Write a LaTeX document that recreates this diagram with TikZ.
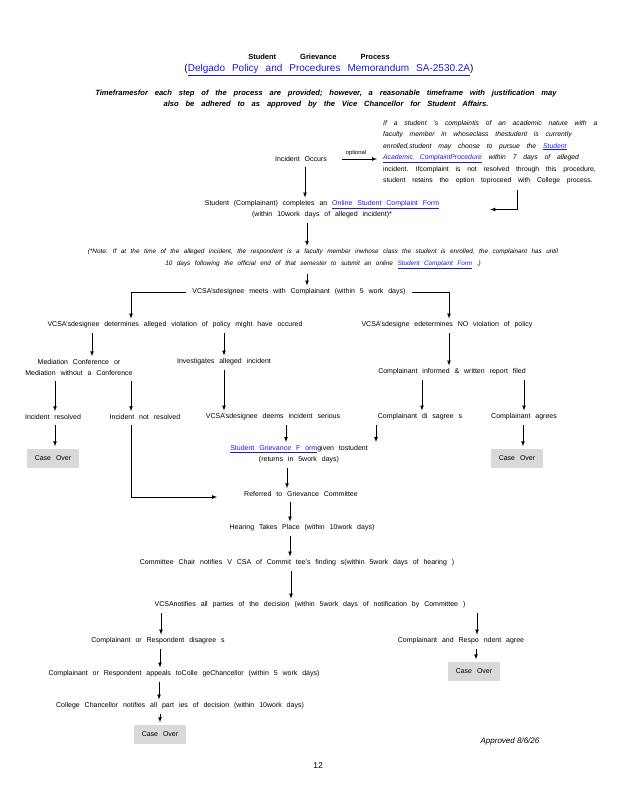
\documentclass[tikz,border=0pt]{standalone}
\usepackage{fontspec}
\setmainfont{Liberation Sans}
\usepackage{tikz}
\usetikzlibrary{arrows}
\definecolor{lnkblue}{RGB}{25,25,235}
\definecolor{boxgray}{RGB}{217,217,217}
\newcommand{\lnk}[1]{\textcolor{lnkblue}{\underline{#1}}}
\newcommand{\wsp}{\spaceskip=0.7em plus 0.1em\relax}
\newcommand{\wspw}{\spaceskip=0.9em plus 0.1em\relax}
\newcommand{\wspr}{\spaceskip=1em plus 0.1em\relax}
\tikzset{
  txt/.style={inner sep=1pt, align=center, font=\fontsize{7}{11}\selectfont\wsp},
  arr/.style={-latex, line width=0.7pt, shorten <=4pt, shorten >=2pt},
  caseover/.style={fill=boxgray, minimum width=52pt, minimum height=19pt, inner sep=0pt, font=\fontsize{7}{8}\selectfont\wsp}
}

\begin{document}
\begin{tikzpicture}[x=1pt,y=-1pt]
  \useasboundingbox (0,0) rectangle (618,800);
  \node[txt, font=\fontsize{7.5}{9}\selectfont\bfseries] (title) at (319, 57)
       {Student\hspace{24pt}Grievance\hspace{24pt}Process};
  \node[txt, font=\fontsize{10}{11}\selectfont\wsp] (memo) at (329, 70)
       {(\lnk{Delgado Policy and Procedures Memorandum SA-2530.2A})};
  \node[txt, font=\fontsize{7.6}{11}\selectfont\bfseries\itshape\wspw] (tframe) at (326,99.5)
       {Timeframesfor each step of the process are provided; however, a reasonable timeframe with justification may\\
        also be adhered to as approved by the Vice Chancellor for Student Affairs.};
  \node[txt, align=left, anchor=north west, font=\fontsize{6.8}{11.5}\selectfont\wspr] (rblock) at (382,119)
       {\textit{If a student 's complaintis of an academic nature with a}\\
        \textit{faculty member in whoseclass thestudent is currently}\\
        \textit{enrolled,student may choose to pursue the \lnk{Student}}\\
        \textit{\lnk{Academic ComplaintProcedure} within 7 days of alleged}\\
        incident. Ifcomplaint is not resolved through this procedure,\\
        student retains the option toproceed with College process.};
  \node[txt] (occurs) at (301,159) {Incident Occurs};
  \node[txt, font=\fontsize{5.8}{7}\selectfont] (opt) at (356,153) {optional};
  \node[txt] (completes) at (322,209.5)
       {Student (Complainant) completes an \lnk{Online Student Complaint Form}\\
        (within 10work days of alleged incident)*};
  \node[txt, font=\fontsize{6.4}{12}\selectfont\itshape\wsp] (note) at (323,259)
       {(*Note: If at the time of the alleged incident, the respondent is a faculty member inwhose class the student is enrolled, the complainant has until\\
        10 days following the official end of that semester to submit an online \lnk{Student Complaint Form} .)};
  \node[txt] (meets)     at (299,292) {VCSA'sdesignee meets with Complainant (within 5 work days)};
  \node[txt] (determ)    at (175,325) {VCSA'sdesignee determines alleged violation of policy might have occured};
  \node[txt] (nodet)     at (447,325) {VCSA'sdesigne edetermines NO violation of policy};
  \node[txt] (mediation) at ( 79,367.5) {Mediation Conference or\\Mediation without a Conference};
  \node[txt] (invest)    at (224,362) {Investigates alleged incident};
  \node[txt] (informed)  at (452,372) {Complainant informed \& written report filed};
  \node[txt] (resolved)  at ( 53,417) {Incident resolved};
  \node[txt] (notres)    at (145,417) {Incident not resolved};
  \node[txt] (serious)   at (273,417) {VCSA'sdesignee deems incident serious};
  \node[txt] (cdis)      at (420,417) {Complainant di sagree s};
  \node[txt] (cagr)      at (524,417) {Complainant agrees};
  \node[caseover] (case1) at ( 53,458) {Case Over};
  \node[caseover] (case2) at (517,458) {Case Over};
  \node[txt] (sgf)       at (299,454) {\lnk{Student Grievance F orm}given tostudent\\(returns in 5work days)};
  \node[txt] (referred)  at (301,494) {Referred to Grievance Committee};
  \node[txt] (hearing)   at (302,528) {Hearing Takes Place (within 10work days)};
  \node[txt] (chair)     at (297,563) {Committee Chair notifies V CSA of Commit tee's finding s(within 5work days of hearing )};
  \node[txt] (vnotify)   at (310,605) {VCSAnotifies all parties of the decision (within 5work days of notification by Committee )};
  \node[txt] (cords)     at (158,641) {Complainant or Respondent disagree s};
  \node[txt] (cands)     at (461,641) {Complainant and Respo ndent agree};
  \node[caseover] (case3) at (474,671) {Case Over};
  \node[txt] (appeals)   at (184,674) {Complainant or Respondent appeals toColle geChancellor (within 5 work days)};
  \node[txt] (chanc)     at (180,706) {College Chancellor notifies all part ies of decision (within 10work days)};
  \node[caseover] (case4) at (160,734) {Case Over};
  \node[txt, font=\fontsize{8}{10}\selectfont\itshape] (approved) at (510,741) {Approved 8/6/26};
  \node[txt, font=\fontsize{8.5}{10}\selectfont] (pagenum) at (318,766) {12};
  \draw[arr, shorten <=14pt, shorten >=5pt] (occurs.east) -- (occurs.east -| rblock.west);
  \draw[arr] ([xshift=4pt]occurs.south) -- ([xshift=-17pt]completes.north);
  \draw[arr, shorten <=0pt] ([xshift=135pt,yshift=-5pt]rblock.south west) |- ([xshift=48pt]completes.east);
  \draw[arr] ([xshift=-15pt]completes.south) -- ([xshift=-16pt]note.north);
  \draw[arr] ([xshift=-16pt]note.south) -- ([xshift=8pt]meets.north);
  \draw[arr, shorten <=5pt] (meets.west) -| ([xshift=-44pt]determ.north);
  \draw[arr, shorten <=5pt] (meets.east) -| ([xshift=2pt]nodet.north);
  \draw[arr] ([xshift=-83pt]determ.south) -- ([xshift=13pt]mediation.north);
  \draw[arr] ([xshift=49pt]determ.south) -- (invest.north);
  \draw[arr] ([xshift=2pt]nodet.south) -- ([xshift=-3pt]informed.north);
  \draw[arr] ([xshift=-24pt]mediation.south) -- ([xshift=2pt]resolved.north);
  \draw[arr] ([xshift=52pt]mediation.south) -- ([xshift=-14pt]notres.north);
  \draw[arr] (invest.south) -- ([xshift=-49pt]serious.north);
  \draw[arr] ([xshift=-30pt]informed.south) -- ([xshift=2pt]cdis.north);
  \draw[arr] ([xshift=72pt]informed.south) -- (cagr.north);
  \draw[arr] ([xshift=2pt]resolved.south) -- ([xshift=2pt]case1.north);
  \draw[arr] ([xshift=-1pt]cagr.south) -- ([xshift=6pt]case2.north);
  \draw[arr, shorten >=26pt] ([xshift=-14pt]notres.south) |- ([yshift=-3pt]referred.west);
  \draw[arr] ([xshift=13pt]serious.south) -- ([xshift=-13pt]sgf.north);
  \draw[arr] ([xshift=-44pt]cdis.south) -- ([xshift=77pt]sgf.north);
  \draw[arr] ([xshift=-12pt]sgf.south) -- ([xshift=-14pt]referred.north);
  \draw[arr] ([xshift=-11pt]referred.south) -- ([xshift=-12pt]hearing.north);
  \draw[arr] ([xshift=-12pt]hearing.south) -- ([xshift=-7pt]chair.north);
  \draw[arr] ([xshift=-6pt]chair.south) -- ([xshift=-19pt]vnotify.north);
  \draw[arr] ([xshift=-149pt]vnotify.south) -- ([xshift=3pt]cords.north);
  \draw[arr] ([xshift=167pt]vnotify.south) -- ([xshift=16pt]cands.north);
  \draw[arr] ([xshift=2pt]cords.south) -- ([xshift=-24pt]appeals.north);
  \draw[arr] ([xshift=15pt]cands.south) -- ([xshift=2pt]case3.north);
  \draw[arr] ([xshift=-25pt]appeals.south) -- ([xshift=-21pt]chanc.north);
  \draw[arr] ([xshift=-20pt]chanc.south) -- (case4.north);
\end{tikzpicture}
\end{document}
